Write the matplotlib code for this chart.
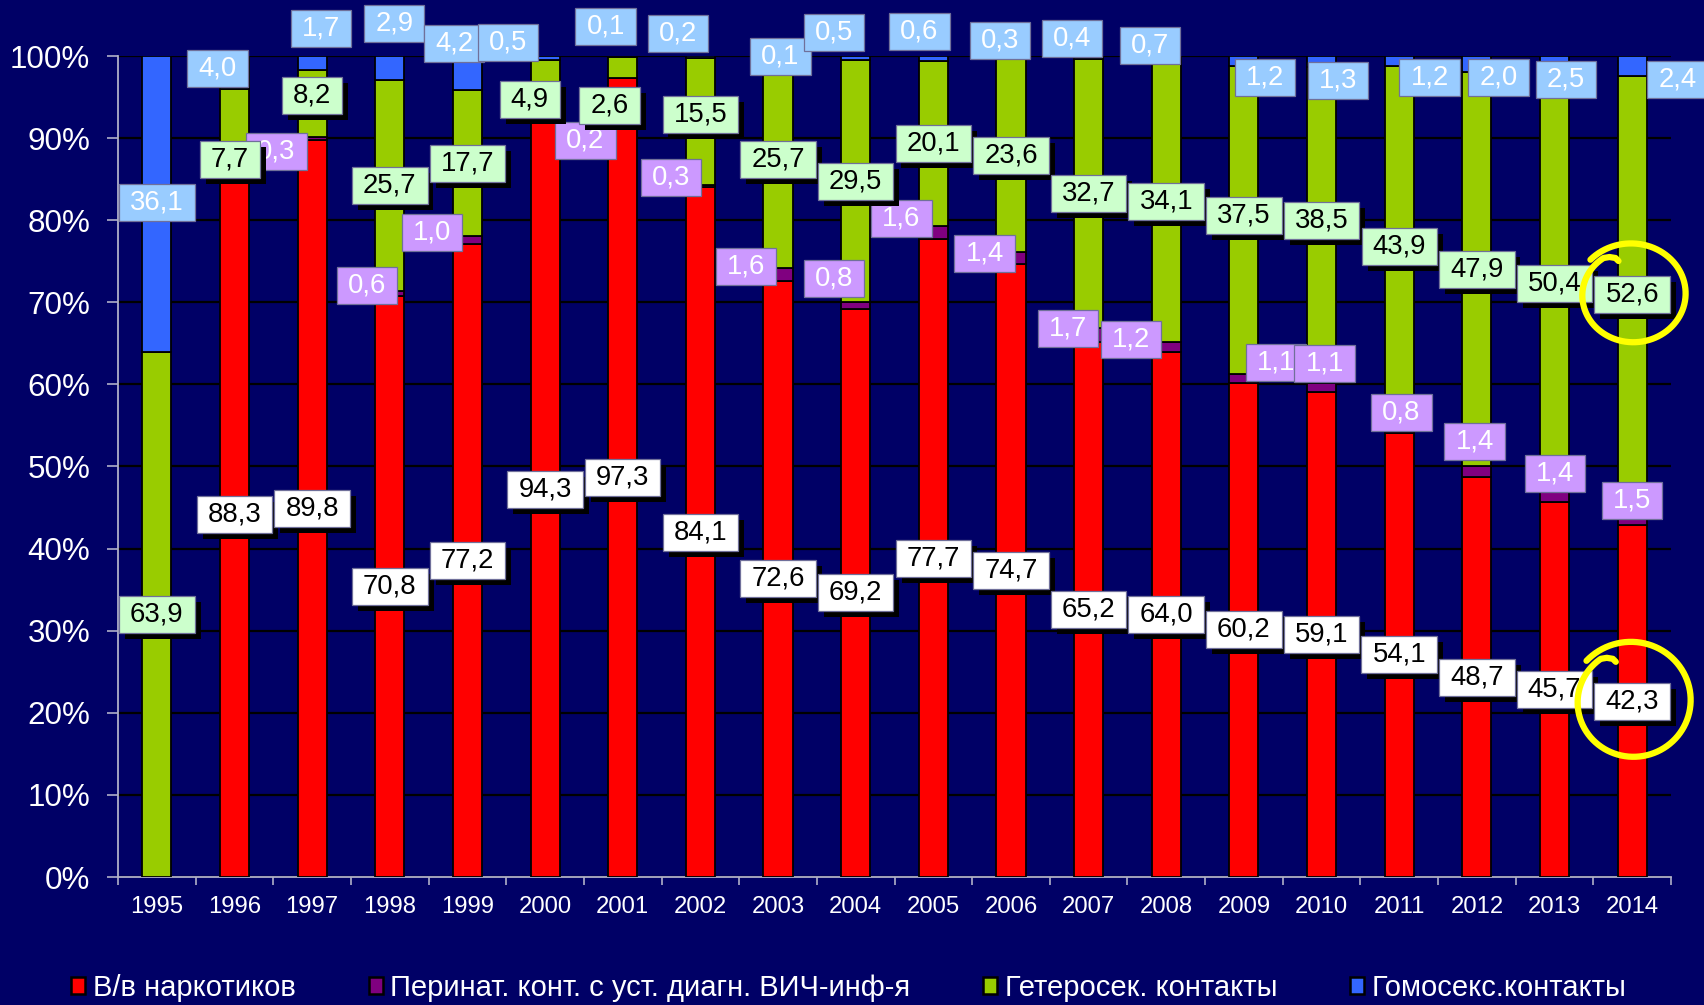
import numpy as np
import matplotlib
matplotlib.use("Agg")
import matplotlib.pyplot as plt
from matplotlib.path import Path
from matplotlib.patches import Patch
import matplotlib.patheffects as pe
import matplotlib.transforms as mtrans

plt.rcParams['font.family'] = ['Liberation Sans', 'DejaVu Sans']

# ---------------- data ----------------
years = [1995, 1996, 1997, 1998, 1999, 2000, 2001, 2002, 2003, 2004,
         2005, 2006, 2007, 2008, 2009, 2010, 2011, 2012, 2013, 2014]
idu = [0, 88.3, 89.8, 70.8, 77.2, 94.3, 97.3, 84.1, 72.6, 69.2,
       77.7, 74.7, 65.2, 64.0, 60.2, 59.1, 54.1, 48.7, 45.7, 42.3]
perinatal = [0, 0, 0.3, 0.6, 1.0, 0.2, 0, 0.3, 1.6, 0.8,
             1.6, 1.4, 1.7, 1.2, 1.1, 1.1, 0.8, 1.4, 1.4, 1.5]
hetero = [63.9, 7.7, 8.2, 25.7, 17.7, 4.9, 2.6, 15.5, 25.7, 29.5,
          20.1, 23.6, 32.7, 34.1, 37.5, 38.5, 43.9, 47.9, 50.4, 52.6]
homo = [36.1, 4.0, 1.7, 2.9, 4.2, 0.5, 0.1, 0.2, 0.1, 0.5,
        0.6, 0.3, 0.4, 0.7, 1.2, 1.3, 1.2, 2.0, 2.5, 2.4]
series_names = ['В/в наркотиков', 'Перинат. конт. с уст. диагн. ВИЧ-инф-я',
                'Гетеросек. контакты', 'Гомосекс.контакты']
ytick_labels = ['0%', '10%', '20%', '30%', '40%', '50%', '60%', '70%', '80%', '90%', '100%']

# ---------------- label layout (offsets from segment centre: category units, % units) ----------------
green_dx = [0, -0.06, 0, 0, 0, -0.2, -0.17, 0, 0, 0, 0, 0, 0, 0, 0, 0, 0, 0, 0, 0]
green_dy = [0, -4.75, 1.0, 0, 0, -2.35, -4.6, 0.8, 0.3, 0, 0, 0, 0, 0, 0.5, 0.5, 0, 0, 0, 0]
purple_dx = [0, 0, -0.46, -0.29, -0.46, 0.52, 0, -0.38, -0.41, -0.28,
             -0.41, -0.34, -0.27, -0.45, 0.41, 0.04, 0.03, -0.03, 0.01, 0]
purple_dy = [0, 0, -1.55, 0.9, 0.9, -4.75, 0, 1.05, 0.9, 3.3,
             1.7, 0.6, 0.75, 0.9, 1.95, 2.95, 2.1, 3.6, 2.8, 2.3]
blue_dx = [0, -0.22, 0.11, 0.06, -0.17, -0.48, -0.22, -0.29, 0.03, -0.28,
           -0.18, -0.14, -0.21, -0.21, 0.27, 0.21, 0.39, 0.28, 0.15, 0.58]
blue_dy = [0.15, 0.5, 4.15, 5.45, 3.65, 1.95, 3.65, 2.9, 0, 3.15,
           3.3, 2.05, 2.3, 1.65, -2.0, -2.35, -2.0, -1.6, -1.65, -1.7]

BG = '#000066'
bar_colors = ['#FF0000', '#800080', '#99CC00', '#3366FF']
box_colors = ['#FFFFFF', '#CC99FF', '#CCFFCC', '#99CCFF']
text_colors = ['black', 'white', 'black', 'white']

W, H = 1704, 1005
fig = plt.figure(figsize=(W / 100, H / 100), dpi=100, facecolor=BG)
ax_left, ax_right, ax_top, ax_bot = 118, 1671, 56, 877
ax = fig.add_axes([ax_left / W, 1 - ax_bot / H, (ax_right - ax_left) / W, (ax_bot - ax_top) / H])
ax.set_facecolor(BG)

x = np.arange(len(years))
raw = np.array([idu, perinatal, hetero, homo], dtype=float)
norm = raw / raw.sum(axis=0) * 100
bottoms = np.vstack([np.zeros(len(years)), np.cumsum(norm, axis=0)[:-1]])

for i in range(4):
    ax.bar(x, norm[i], bottom=bottoms[i], width=0.375, color=bar_colors[i],
           edgecolor='black', linewidth=1.3, zorder=3)

ax.set_xlim(-0.5, len(years) - 0.5)
ax.set_ylim(0, 100)
ax.set_yticks(np.arange(0, 101, 10))
ax.set_yticklabels(ytick_labels, fontsize=22.6, color='white')
ax.set_xticks(x)
ax.set_xticklabels([str(y) for y in years], fontsize=17.2, color='white')
ax.set_xticks(np.arange(-0.5, len(years), 1), minor=True)
ax.tick_params(axis='x', which='major', length=0, pad=14)
ax.tick_params(axis='x', which='minor', length=6, width=1.2, color='#B0B0C8', direction='out')
ax.tick_params(axis='y', which='major', length=8, width=1.2, color='#B0B0C8', pad=12)
ax.yaxis.grid(True, color='black', linewidth=1.6, zorder=1)
ax.set_axisbelow(True)
for s in ['top', 'right']:
    ax.spines[s].set_visible(False)
for s in ['left', 'bottom']:
    ax.spines[s].set_color('#B0B0C8')
    ax.spines[s].set_linewidth(1.3)


def label_box(x0, y0, width, height, mutation_size):
    px = 0.4 * mutation_size
    py = 0.2 * mutation_size
    x0 -= px
    y0 -= py
    x1 = x0 + width + 2 * px
    y1 = y0 + height + 2 * py
    return Path([(x0, y0), (x1, y0), (x1, y1), (x0, y1), (x0, y0)], closed=True)


def fmt(v):
    return f"{v:.1f}".replace('.', ',')


offsets = [
    (np.zeros(len(years)), np.zeros(len(years))),
    (np.array(purple_dx), np.array(purple_dy)),
    (np.array(green_dx), np.array(green_dy)),
    (np.array(blue_dx), np.array(blue_dy)),
]
zorders = [7, 5, 6, 5]
shadow = [True, False, True, False]
label_pos = {}
for i in range(4):
    dxs, dys = offsets[i]
    for j in range(len(years)):
        if raw[i, j] <= 0:
            continue
        cx = x[j] + dxs[j]
        cy = bottoms[i, j] + norm[i, j] / 2 + dys[j]
        label_pos[(i, j)] = (cx, cy)
        t = ax.text(cx, cy, fmt(raw[i, j]), ha='center', va='center', fontsize=19.8,
                    color=text_colors[i], zorder=zorders[i], clip_on=False,
                    bbox=dict(boxstyle=label_box, facecolor=box_colors[i],
                              edgecolor='#70709A', linewidth=0.9))
        if shadow[i]:
            t.get_bbox_patch().set_path_effects([
                pe.SimplePatchShadow(offset=(4.3, -4.3), shadow_rgbFace='black', alpha=1.0),
                pe.Normal()])


# hand-drawn yellow circles around the 2014 labels
def scribble(center, rx, ry):
    cx, cy = center
    tr = fig.dpi_scale_trans + mtrans.ScaledTranslation(cx, cy, ax.transData)
    t = np.linspace(0, 1, 200)
    ang = np.deg2rad(138 - 372 * t)
    sc = 1.06 - 0.14 * t
    xs = rx * sc * np.cos(ang)
    ys = ry * sc * np.sin(ang)
    hx = xs[-1] + np.array([0, 6, 12, 15])
    hy = ys[-1] + np.array([0, 1, 0, -3])
    xs = np.concatenate([xs, hx]) / 100
    ys = np.concatenate([ys, hy]) / 100
    ax.plot(xs, ys, color='#FFFF00', linewidth=4.5, transform=tr, zorder=10,
            clip_on=False, solid_capstyle='round')


last = len(years) - 1
scribble(label_pos[(2, last)], 53, 49)
scribble(label_pos[(0, last)], 58, 57)

handles = [Patch(facecolor=c, edgecolor='black', linewidth=1.8) for c in bar_colors]
fig.legend(handles, series_names, loc='center', bbox_to_anchor=(849 / W, 1 - 988 / H),
           ncol=4, frameon=False, fontsize=21, labelcolor='white',
           handlelength=0.48, handleheight=0.5, handletextpad=0.26, columnspacing=2.5)

fig.savefig('out.png', dpi=100, facecolor=BG)
